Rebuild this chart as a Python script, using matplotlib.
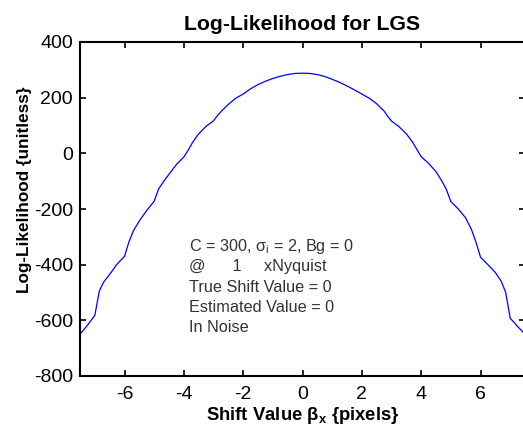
import matplotlib
matplotlib.use("Agg")
import matplotlib.pyplot as plt

plt.rcParams['font.family'] = ['Liberation Sans', 'DejaVu Sans']
plt.rcParams['mathtext.fontset'] = 'custom'
plt.rcParams['mathtext.rm'] = 'Liberation Sans'
plt.rcParams['mathtext.it'] = 'Liberation Sans:italic'
plt.rcParams['mathtext.bf'] = 'Liberation Sans:bold'
plt.rcParams['axes.unicode_minus'] = False

# Data
shift = [-7.5, -7.25, -7.0, -6.85, -6.7, -6.5, -6.25, -6.0, -5.85, -5.7, -5.5, -5.25,
         -5.0, -4.85, -4.7, -4.5, -4.25, -4.0, -3.85, -3.7, -3.5, -3.25, -3.0, -2.85,
         -2.7, -2.5, -2.25, -2.0, -1.75, -1.5, -1.25, -1.0, -0.75, -0.5, -0.25, 0.0,
         0.25, 0.5, 0.75, 1.0, 1.25, 1.5, 1.75, 2.0, 2.25, 2.5, 2.75, 2.85, 3.0,
         3.25, 3.5, 3.7, 3.85, 4.0, 4.25, 4.5, 4.7, 4.85, 5.0, 5.25, 5.5, 5.7, 5.85,
         6.0, 6.25, 6.5, 6.7, 6.85, 7.0, 7.25, 7.5]
loglik = [-650, -618, -582, -495, -462, -435, -398, -370, -318, -278, -243, -205,
          -172, -128, -104, -75, -40, -13, 12, 40, 70, 97, 117, 138,
          155, 176, 198, 213, 232, 247, 259, 269, 277, 283, 287, 288,
          287, 283, 276, 266, 255, 242, 228, 213, 198, 178, 152, 136, 116,
          96, 70, 42, 15, -12, -36, -66, -100, -130, -173, -200, -232, -275, -320,
          -373, -400, -428, -460, -500, -592, -622, -650]

xticks = [-6, -4, -2, 0, 2, 4, 6]
yticks = [-800, -600, -400, -200, 0, 200, 400]

info_lines = [r'C = 300, σ$_\mathrm{i}$ = 2, Bg = 0',
              '@      1     xNyquist',
              'True Shift Value = 0',
              'Estimated Value = 0',
              'In Noise']

fig = plt.figure(figsize=(5.23, 4.32), dpi=100)
ax = fig.add_axes([80/523, 1 - 376/432, 445/523, 334/432])
ax.plot(shift, loglik, color=(0, 0, 1), lw=0.9)

ax.set_xlim(-7.5, 7.5)
ax.set_ylim(-800, 400)
ax.set_xticks(xticks)
ax.set_yticks(yticks)
ax.tick_params(direction='in', length=4, width=1.2, top=True, right=True,
               labelsize=14)
ax.tick_params(axis='y', pad=5)
ax.tick_params(axis='x', pad=7)
for s in ax.spines.values():
    s.set_linewidth(1.5)

ax.set_title('Log-Likelihood for LGS', fontsize=15.3, fontweight='bold', pad=9)
ax.set_xlabel(r'Shift Value $\mathbf{\beta_x}$ {pixels}', fontsize=13.3, fontweight='bold', labelpad=2)
ax.set_ylabel('Log-Likelihood {unitless}', fontsize=12.3, fontweight='bold', labelpad=4)
ax.yaxis.set_label_coords(-0.108, (376 - 190) / 334)

for i, line in enumerate(info_lines):
    ax.text(189 / 523, 1 - (247 + 20 * i) / 432, line, transform=fig.transFigure,
            fontsize=11.7, color='#333333', va='center', ha='left')

fig.savefig('out.png', dpi=100)
